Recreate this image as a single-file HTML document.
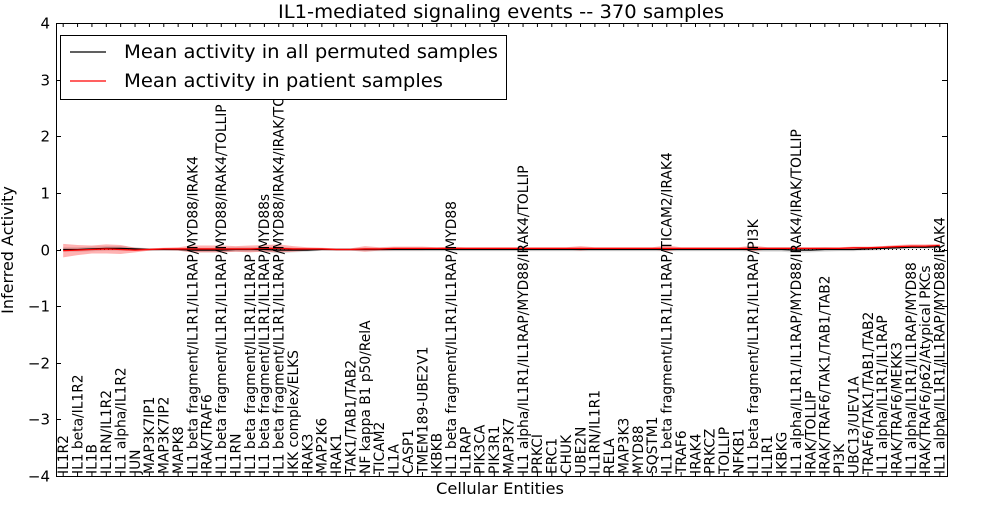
<!DOCTYPE html>
<html><head><meta charset="utf-8"><style>
body{margin:0;background:#fff}
svg text{font-family:"DejaVu Sans","Liberation Sans",sans-serif}
</style></head><body>
<svg id="chart" width="1000" height="500">
<rect width="1000" height="500" fill="#fff"/>
<g id="bands"></g><g id="lines"></g><g id="axes"></g><g id="xlabels"></g><g id="legendlayer"></g>
</svg>
<script>
const categories=["IL1R2","IL1 beta/IL1R2","IL1B","IL1RN/IL1R2","IL1 alpha/IL1R2","JUN","MAP3K7IP1","MAP3K7IP2","MAPK8","IL1 beta fragment/IL1R1/IL1RAP/MYD88/IRAK4","IRAK/TRAF6","IL1 beta fragment/IL1R1/IL1RAP/MYD88/IRAK4/TOLLIP","IL1RN","IL1 beta fragment/IL1R1/IL1RAP","IL1 beta fragment/IL1R1/IL1RAP/MYD88s","IL1 beta fragment/IL1R1/IL1RAP/MYD88/IRAK4/IRAK/TOLLIP","IKK complex/ELKS","IRAK3","MAP2K6","IRAK1","TAK1/TAB1/TAB2","NF kappa B1 p50/RelA","TICAM2","IL1A","CASP1","TMEM189-UBE2V1","IKBKB","IL1 beta fragment/IL1R1/IL1RAP/MYD88","IL1RAP","PIK3CA","PIK3R1","MAP3K7","IL1 alpha/IL1R1/IL1RAP/MYD88/IRAK4/TOLLIP","PRKCI","ERC1","CHUK","UBE2N","IL1RN/IL1R1","RELA","MAP3K3","MYD88","SQSTM1","IL1 beta fragment/IL1R1/IL1RAP/TICAM2/IRAK4","TRAF6","IRAK4","PRKCZ","TOLLIP","NFKB1","IL1 beta fragment/IL1R1/IL1RAP/PI3K","IL1R1","IKBKG","IL1 alpha/IL1R1/IL1RAP/MYD88/IRAK4/IRAK/TOLLIP","IRAK/TOLLIP","IRAK/TRAF6/TAK1/TAB1/TAB2","PI3K","UBC13/UEV1A","TRAF6/TAK1/TAB1/TAB2","IL1 alpha/IL1R1/IL1RAP","IRAK/TRAF6/MEKK3","IL1 alpha/IL1R1/IL1RAP/MYD88","IRAK/TRAF6/p62/Atypical PKCs","IL1 alpha/IL1R1/IL1RAP/MYD88/IRAK4"];
const permutedMean=[0,0,0.01,0.02,0.02,0.01,0,0,0,-0.01,-0.01,-0.01,0,0,0,-0.01,-0.01,-0.01,0,0,0,0,0,0,0,0,0,0,0,0,0,0,0,0,0,0,0,0,0,0,0,0,0,0,0,0,0,0,0,0,0,-0.01,-0.01,0,0,0,0.01,0.02,0.03,0.04,0.04,0.05];
const patientMean=[-0.02,-0.01,0,0.01,0,-0.01,0,0.01,0.01,0.01,0.01,0.01,0.01,0.01,0.02,0.02,0.01,0.01,0.01,0,0,0.01,0.01,0.02,0.02,0.02,0.02,0.02,0.02,0.02,0.02,0.02,0.02,0.02,0.02,0.02,0.02,0.02,0.02,0.02,0.02,0.02,0.02,0.02,0.02,0.02,0.02,0.02,0.02,0.02,0.02,0.02,0.02,0.02,0.02,0.03,0.03,0.04,0.05,0.06,0.06,0.07];
const patientSpread=[0.12,0.09,0.07,0.08,0.08,0.04,0.02,0.02,0.03,0.06,0.06,0.06,0.05,0.06,0.06,0.07,0.05,0.03,0.02,0.02,0.02,0.05,0.03,0.03,0.03,0.03,0.02,0.03,0.02,0.02,0.02,0.02,0.02,0.02,0.02,0.02,0.04,0.02,0.02,0.02,0.02,0.02,0.05,0.02,0.02,0.02,0.02,0.02,0.05,0.02,0.02,0.02,0.02,0.02,0.02,0.02,0.02,0.02,0.03,0.03,0.03,0.03];
const permutedSpread=[0.04,0.04,0.04,0.04,0.04,0.03,0.02,0.02,0.02,0.04,0.04,0.04,0.04,0.04,0.04,0.06,0.04,0.03,0.02,0.02,0.02,0.03,0.03,0.03,0.03,0.03,0.03,0.03,0.03,0.03,0.03,0.03,0.03,0.03,0.03,0.03,0.03,0.03,0.03,0.03,0.03,0.03,0.03,0.03,0.03,0.03,0.03,0.03,0.04,0.04,0.04,0.05,0.04,0.04,0.03,0.03,0.03,0.03,0.03,0.03,0.03,0.03];
const yTicks=[-4,-3,-2,-1,0,1,2,3,4];
const NS="http://www.w3.org/2000/svg";
const L=56,R=947,T=23,B=476;
const xs=i=>L+(i+0.5)*(R-L)/categories.length;
const ys=v=>B-(v+4)/8*(B-T);
function mk(tag,attrs,parent){const e=document.createElementNS(NS,tag);for(const k in attrs)e.setAttribute(k,attrs[k]);parent.appendChild(e);return e;}
const bands=document.getElementById('bands'),lines=document.getElementById('lines'),axes=document.getElementById('axes'),xl=document.getElementById('xlabels'),ll=document.getElementById('legendlayer');
function band(mean,spread,fill,op,name){let d="";mean.forEach((m,i)=>d+=(i?"L":"M")+xs(i)+","+ys(m+spread[i]));for(let i=mean.length-1;i>=0;i--)d+="L"+xs(i)+","+ys(mean[i]-spread[i]);d+="Z";
const p=mk('path',{d:d,fill:fill,'fill-opacity':op},bands);

}
band(permutedMean,permutedSpread,'#bbbbbb',0.5,'permuted-band');
band(patientMean,patientSpread,'#ff0000',0.3,'patient-band');
const zl=mk('line',{x1:L,x2:R,y1:ys(0),y2:ys(0),stroke:'#000','stroke-dasharray':'1,3','stroke-width':1},lines);


function line(arr,col,name){const p=mk('polyline',{points:arr.map((v,i)=>xs(i)+","+ys(v)).join(" "),fill:'none',stroke:col,'stroke-width':1.3},lines);

}
line(permutedMean,'#000','permuted-mean-line');
line(patientMean,'#ff0000','patient-mean-line');
const fr=mk('rect',{x:L+0.5,y:T+0.5,width:R-L,height:B-T,fill:'none',stroke:'#000','stroke-width':1},axes);


yTicks.forEach(v=>{const y=Math.round(ys(v))+0.5;
mk('line',{x1:L,x2:L+5,y1:y,y2:y,stroke:'#000'},axes);mk('line',{x1:R-5,x2:R,y1:y,y2:y,stroke:'#000'},axes);
const t=mk('text',{x:L-6,y:y+5,'text-anchor':'end','font-size':15},axes);t.textContent=(v<0?"\u2212":"")+Math.abs(v);

});
categories.forEach((c,i)=>{const x=xs(i);
mk('line',{x1:x,x2:x,y1:B,y2:B-4,stroke:'#000'},axes);mk('line',{x1:x,x2:x,y1:T,y2:T+4,stroke:'#000'},axes);
const t=mk('text',{x:0,y:0,transform:`translate(${x+4.8},${B-2}) rotate(-90)`,'font-size':13.8},xl);t.textContent=c;

});
const ti=mk('text',{x:501,y:18,'text-anchor':'middle','font-size':19,textLength:446,lengthAdjust:'spacingAndGlyphs'},axes);ti.textContent="IL1-mediated signaling events -- 370 samples";


const xt=mk('text',{x:500,y:494,'text-anchor':'middle','font-size':16,textLength:128,lengthAdjust:'spacingAndGlyphs'},axes);xt.textContent="Cellular Entities";


const yt=mk('text',{x:0,y:0,transform:'translate(13,250) rotate(-90)','text-anchor':'middle','font-size':16},axes);yt.textContent="Inferred Activity";


const lg=mk('g',{},ll);


mk('rect',{x:60.5,y:35.5,width:446,height:64,fill:'#fff',stroke:'#000'},lg);
[["Mean activity in all permuted samples","#000",52,374],["Mean activity in patient samples","#f00",81,319]].forEach(([s,c,y,w])=>{
mk('line',{x1:70,x2:106,y1:y,y2:y,stroke:c,'stroke-width':1.3},lg);
const t=mk('text',{x:124,y:y+6,'font-size':19,textLength:w,lengthAdjust:'spacingAndGlyphs'},lg);t.textContent=s;

});
</script>
</body></html>
